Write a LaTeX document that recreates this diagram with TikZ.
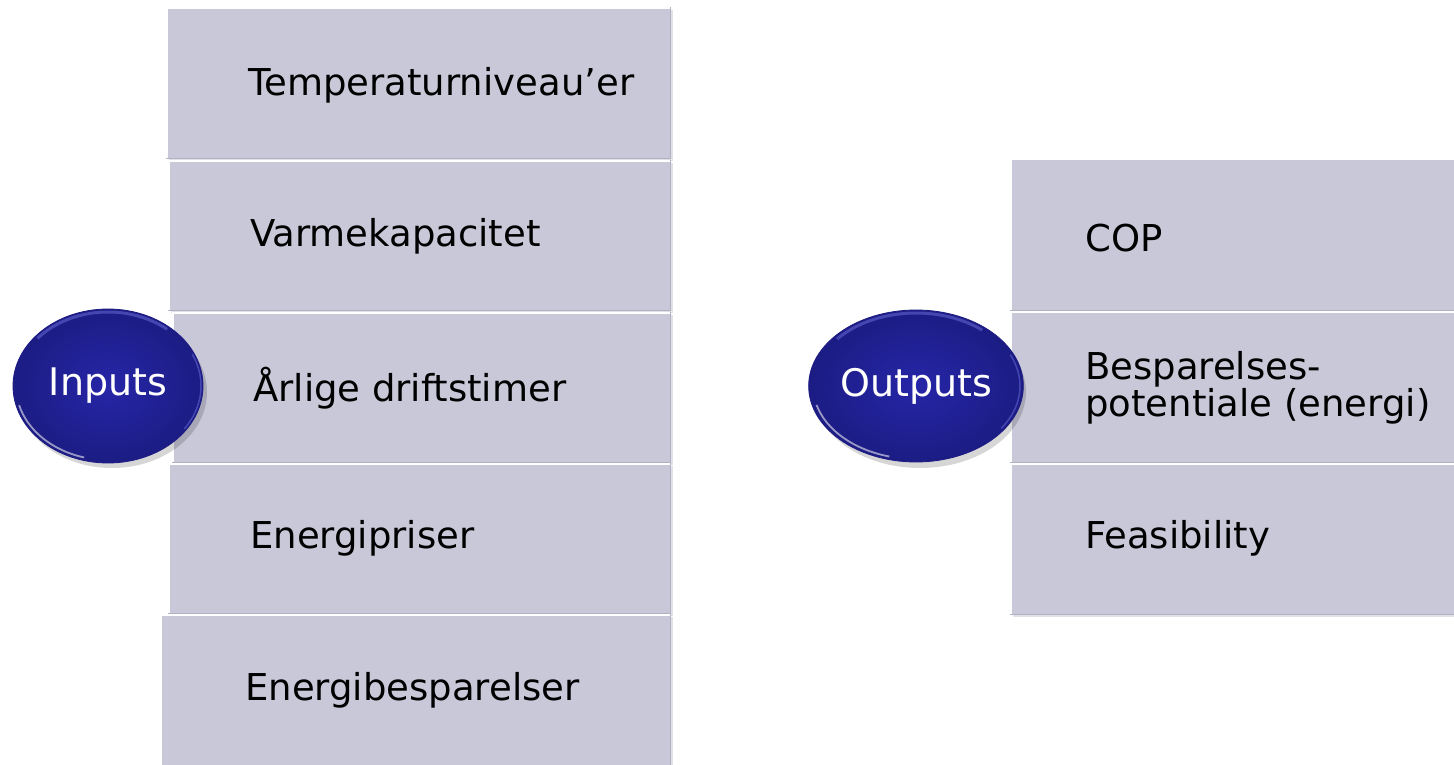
\documentclass[tikz,border=0pt]{standalone}
\usepackage{fontspec}
\setmainfont{DejaVu Sans}
\usetikzlibrary{shapes.geometric}
\definecolor{boxfill}{HTML}{C9C8D8}
\definecolor{boxedge}{HTML}{B2B1C4}
\definecolor{boxshade}{HTML}{A9A8B8}
\definecolor{discin}{HTML}{2626A8}
\definecolor{discout}{HTML}{1C1C84}
\definecolor{discrim}{HTML}{6A6AD8}
\tikzset{
  panel/.style={fill=boxfill, draw=boxedge, line width=0.8pt, inner sep=0pt,
                anchor=north west},
  bevel/.style={white, line width=1.6pt},
  paneltext/.style={anchor=west, inner sep=0pt, align=left, text=black,
                    font=\fontsize{37}{37}\selectfont},
  disc/.style={ellipse, inner sep=0pt, inner color=discin, outer color=discout,
               draw=discout, line width=0.8pt, text=white,
               font=\fontsize{38}{38}\selectfont},
  discshadow/.style={fill=black, opacity=0.16},
}
% x, y in pt; y runs downwards as negative values
\newcommand{\panelbox}[5]{% name, x0, y0, width, height
  \fill[boxshade, opacity=0.35] (#2+3, -#3-3) rectangle ++(#4, -#5);
  \node[panel, minimum width=#4pt, minimum height=#5pt] (#1) at (#2,-#3) {};
  \draw[bevel] ([shift={(1pt,1pt)}]#1.south west) -- ([shift={(1pt,-1pt)}]#1.north west)
               -- ([shift={(-1pt,-1pt)}]#1.north east);
}
\begin{document}
\begin{tikzpicture}[x=1pt, y=1pt]
\useasboundingbox[fill=white] (0,0) rectangle (1454,-765);

% ---- input column ----
\panelbox{p1}{166}{7}{504}{151}
\panelbox{p2}{168}{160}{502}{150}
\panelbox{p3}{172}{312}{498}{150}
\panelbox{p4}{168}{463}{502}{150}
\panelbox{p5}{160}{614}{510}{160}

\node[paneltext] (t1) at (248,-85)  {Temperaturniveau’er};
\node[paneltext] (t2) at (250,-236) {Varmekapacitet};
\node[paneltext] (t3) at (253,-388) {Årlige driftstimer};
\node[paneltext] (t4) at (250,-538) {Energipriser};
\node[paneltext] (t5) at (245,-690) {Energibesparelser};

% ---- output column ----
\panelbox{q1}{1010}{158}{460}{152}
\panelbox{q2}{1010}{311}{460}{151}
\panelbox{q3}{1010}{463}{460}{151}

\node[paneltext] (u1) at (1085,-238) {COP};
\node[paneltext] (u2) at (1085,-388) {Besparelses-\\potentiale (energi)};
\node[paneltext] (u3) at (1085,-538) {Feasibility};

% ---- labels as glossy discs ----
\fill[discshadow] (112,-392) ellipse[x radius=95, y radius=76];
\node[disc, minimum width=190pt, minimum height=154pt] (in) at (108,-386) {Inputs};
\draw[discrim, line width=3pt, opacity=0.55]
  (in.center) ++(50:92 and 74) arc[start angle=50, end angle=140, x radius=92, y radius=74];
\draw[white, line width=1.8pt, opacity=0.55]
  (in.center) ++(195:92 and 74) arc[start angle=195, end angle=255, x radius=92, y radius=74];
\draw[discrim, line width=1.5pt, opacity=0.55]
  (in.center) ++(-35:93 and 75) arc[start angle=-35, end angle=25, x radius=93, y radius=75];

\fill[discshadow] (920,-392) ellipse[x radius=106, y radius=76];
\node[disc, minimum width=212pt, minimum height=152pt] (out) at (916,-386) {Outputs};
\draw[discrim, line width=3pt, opacity=0.55]
  (out.center) ++(50:103 and 73) arc[start angle=50, end angle=140, x radius=103, y radius=73];
\draw[white, line width=1.8pt, opacity=0.55]
  (out.center) ++(195:103 and 73) arc[start angle=195, end angle=255, x radius=103, y radius=73];
\draw[discrim, line width=1.5pt, opacity=0.55]
  (out.center) ++(-35:104 and 74) arc[start angle=-35, end angle=25, x radius=104, y radius=74];
\end{tikzpicture}
\end{document}
